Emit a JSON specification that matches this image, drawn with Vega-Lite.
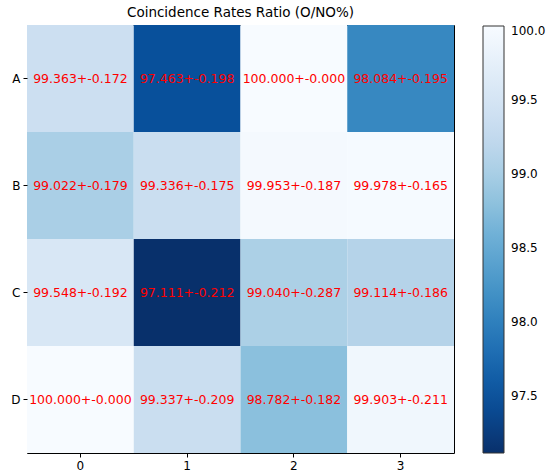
{
  "$schema": "https://vega.github.io/schema/vega-lite/v6.json",
  "width": 427,
  "height": 428,
  "autosize": {"type": "none"},
  "padding": {"left": 27, "top": 25, "right": 99, "bottom": 23},
  "background": "white",
  "title": {"text": "Coincidence Rates Ratio (O/NO%)", "font": "DejaVu Sans", "fontSize": 13.5, "fontWeight": "normal", "color": "black", "offset": 6, "anchor": "middle"},
  "config": {
    "view": {"stroke": "black", "strokeWidth": 1},
    "font": "DejaVu Sans"
  },
  "data": {"values": [
    {"row": "A", "col": "0", "value": 99.363, "err": 0.172},
    {"row": "A", "col": "1", "value": 97.463, "err": 0.198},
    {"row": "A", "col": "2", "value": 100.000, "err": 0.000},
    {"row": "A", "col": "3", "value": 98.084, "err": 0.195},
    {"row": "B", "col": "0", "value": 99.022, "err": 0.179},
    {"row": "B", "col": "1", "value": 99.336, "err": 0.175},
    {"row": "B", "col": "2", "value": 99.953, "err": 0.187},
    {"row": "B", "col": "3", "value": 99.978, "err": 0.165},
    {"row": "C", "col": "0", "value": 99.548, "err": 0.192},
    {"row": "C", "col": "1", "value": 97.111, "err": 0.212},
    {"row": "C", "col": "2", "value": 99.040, "err": 0.287},
    {"row": "C", "col": "3", "value": 99.114, "err": 0.186},
    {"row": "D", "col": "0", "value": 100.000, "err": 0.000},
    {"row": "D", "col": "1", "value": 99.337, "err": 0.209},
    {"row": "D", "col": "2", "value": 98.782, "err": 0.182},
    {"row": "D", "col": "3", "value": 99.903, "err": 0.211}
  ]},
  "transform": [
    {"calculate": "format(datum.value, '.3f') + '+-' + format(datum.err, '.3f')", "as": "label"}
  ],
  "encoding": {
    "x": {"field": "col", "type": "ordinal", "sort": ["0","1","2","3"], "scale": {"paddingInner": 0, "paddingOuter": 0},
      "axis": {"title": null, "labelAngle": 0, "labelFontSize": 12, "labelColor": "black", "tickColor": "black", "tickSize": 4, "domain": false, "labelPadding": 3}},
    "y": {"field": "row", "type": "ordinal", "sort": ["A","B","C","D"], "scale": {"paddingInner": 0, "paddingOuter": 0},
      "axis": {"title": null, "labelFontSize": 12, "labelColor": "black", "tickColor": "black", "tickSize": 4, "domain": false, "labelPadding": 3}}
  },
  "layer": [
    {
      "mark": {"type": "rect"},
      "encoding": {
        "color": {"field": "value", "type": "quantitative",
          "scale": {"domain": [97.111, 100.0], "range": ["#08306b","#08519c","#2171b5","#4292c6","#6baed6","#9ecae1","#c6dbef","#deebf7","#f7fbff"]},
          "legend": {"title": null, "orient": "none", "legendX": 456, "legendY": 1, "direction": "vertical",
            "gradientLength": 427, "gradientThickness": 21, "gradientStrokeColor": "#333333", "gradientStrokeWidth": 1,
            "values": [97.5, 98.0, 98.5, 99.0, 99.5, 100.0], "format": ".1f", "labelFontSize": 12, "labelColor": "black", "labelOffset": 7, "labelOverlap": false}}
      }
    },
    {
      "mark": {"type": "text", "color": "red", "fontSize": 12.5, "font": "DejaVu Sans"},
      "encoding": {"text": {"field": "label"}}
    }
  ]
}
